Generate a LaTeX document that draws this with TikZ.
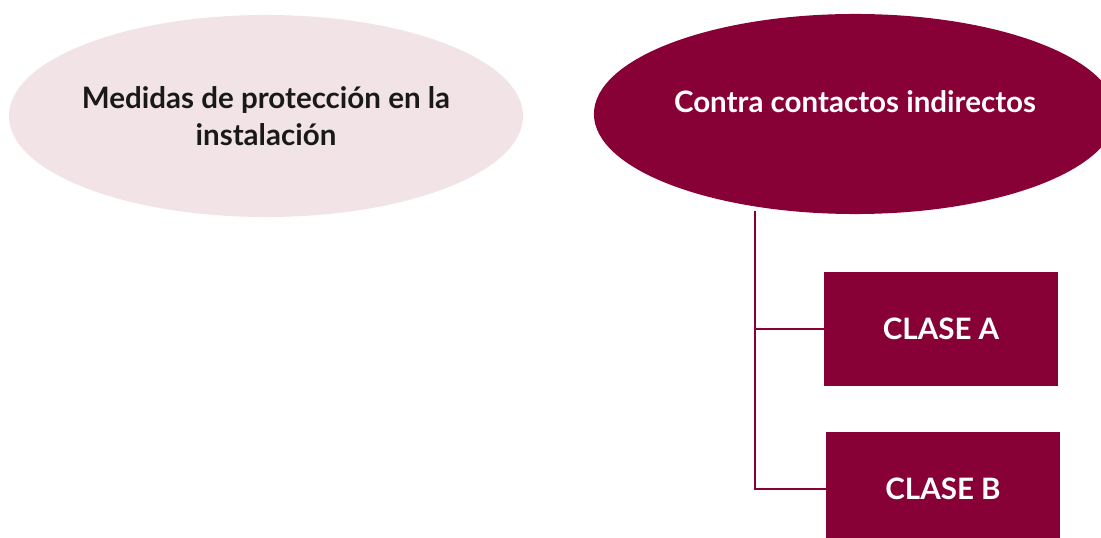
\documentclass[tikz,border=0pt]{standalone}
\usepackage{fontspec}
\setmainfont{Lato}
\usetikzlibrary{shapes.geometric,positioning}
\definecolor{granate}{HTML}{870036}
\definecolor{rosa}{HTML}{F2E4E6}
\begin{document}
\begin{tikzpicture}[x=0.025cm, y=-0.025cm,
    burbuja/.style={ellipse, inner sep=0pt, inner xsep=-20pt, align=center, font=\bfseries\fontsize{21}{26}\selectfont},
    clase/.style={rectangle, fill=granate, text=white, minimum width=5.85cm, minimum height=2.85cm, font=\bfseries\fontsize{21}{25}\selectfont},
    rama/.style={draw=granate, line width=1.8pt}]
                \useasboundingbox (0,0) rectangle (1101,538);

                \node[burbuja, fill=rosa, text=black!90, minimum width=12.85cm, minimum height=5.05cm] (medidas) at (266,116) {Medidas de protección en la\\instalación};
                \node[burbuja, fill=granate, text=white, text height=15pt, text depth=17pt, minimum width=13.05cm, minimum height=5.0cm] (contra) at (855,114) {Contra contactos indirectos};

                \node[clase] (claseA) at (941,329) {CLASE A};
                \node[clase] (claseB) at (943,489) {CLASE B};

                \coordinate (arriba) at (755,211);
                \coordinate (abajo) at (755,490);

                \draw[rama] (arriba) -- (abajo);
                \draw[rama] (arriba |- claseA.west) -- (claseA.west);
                \draw[rama] (arriba |- claseB.west) -- (claseB.west);
            \end{tikzpicture}
\end{document}
